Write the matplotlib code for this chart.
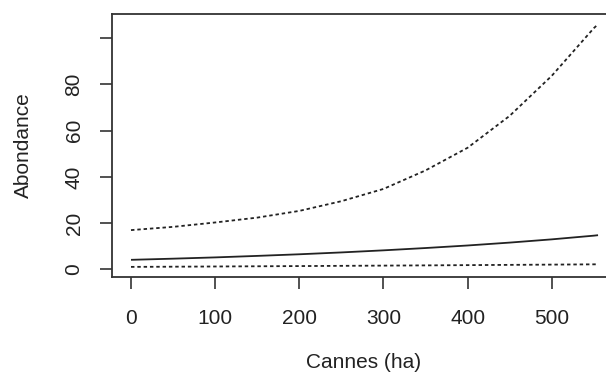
import numpy as np
import matplotlib.pyplot as plt

# surface en cannes (ha) et abondance predite avec intervalle
cannes = [0, 50, 100, 150, 200, 250, 300, 350, 400, 450, 500, 550, 555]
abond_moy = [4.15, 4.65, 5.2, 5.85, 6.55, 7.35, 8.25, 9.25, 10.35, 11.6, 13.0, 14.6, 14.8]
abond_inf = [1.1, 1.18, 1.27, 1.36, 1.45, 1.55, 1.65, 1.75, 1.86, 1.97, 2.08, 2.2, 2.21]
abond_sup = [17.0, 18.4, 20.3, 22.4, 25.3, 29.5, 34.8, 42.8, 52.6, 66.4, 83.7, 104.3, 106.0]

yticks = [0, 20, 40, 60, 80, 100]
ytick_labels = ["0", "20", "40", "60", "80", ""]
xticks = [0, 100, 200, 300, 400, 500]

plt.rcParams['font.family'] = ['Liberation Sans', 'DejaVu Sans']
ink = '#222222'

fig = plt.figure(figsize=(6.06, 3.81), dpi=100)
ax = fig.add_axes([0.1848, 0.2722, 0.8465, 0.6903])

ax.plot(cannes, abond_moy, color=ink, lw=1.3, solid_capstyle='butt')
ax.plot(cannes, abond_inf, color=ink, lw=1.3, dashes=(1.9, 1.6))
ax.plot(cannes, abond_sup, color=ink, lw=1.3, dashes=(1.9, 1.6))

ax.set_xlim(-22.6, 587)
ax.set_ylim(-3.4, 110.3)

ax.set_xticks(xticks)
ax.set_xticklabels([str(v) for v in xticks])
ax.set_yticks(yticks)
ax.set_yticklabels(ytick_labels, rotation=90, va='center')

ax.tick_params(axis='both', direction='out', length=8.5, width=1.1, color=ink,
               labelsize=15, labelcolor=ink)
ax.tick_params(axis='x', pad=14.5)
ax.tick_params(axis='y', pad=12)

for s in ax.spines.values():
    s.set_color('#333333')
    s.set_linewidth(1.3)

fig.text(0.6006, 1 - 362 / 381, "Cannes (ha)", ha='center', va='center',
         fontsize=15, color=ink)
fig.text(23 / 606, 1 - 145 / 381, "Abondance", ha='center', va='center',
         rotation=90, fontsize=15, color=ink)

fig.savefig('out.png', dpi=100)
